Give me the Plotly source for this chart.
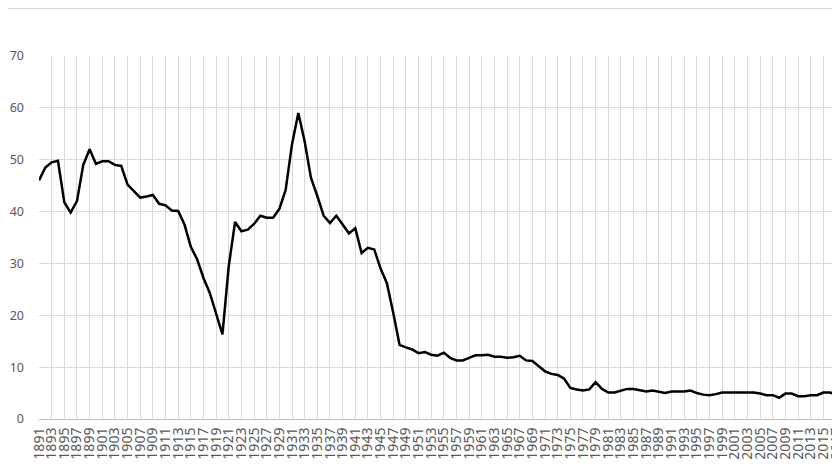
import plotly.graph_objects as go

years = list(range(1891, 2018))
values = [
    46.0, 48.5, 49.5, 49.8, 41.8, 39.8, 42.0, 49.0, 52.0, 49.2,   # 1891-1900
    49.7, 49.7, 49.0, 48.8, 45.2, 44.0, 42.7, 42.9, 43.2, 41.5,   # 1901-1910
    41.2, 40.2, 40.1, 37.5, 33.2, 30.8, 27.2, 24.3, 20.2, 16.3,   # 1911-1920
    29.5, 38.0, 36.2, 36.5, 37.6, 39.2, 38.8, 38.8, 40.5, 44.2,   # 1921-1930
    53.0, 59.0, 53.5, 46.5, 43.0, 39.2, 37.8, 39.2, 37.5, 35.8,   # 1931-1940
    36.8, 32.0, 33.0, 32.7, 29.0, 26.2, 20.5, 14.3, 13.8, 13.4,   # 1941-1950
    12.7, 12.9, 12.4, 12.2, 12.8, 11.8, 11.3, 11.3, 11.8, 12.3,   # 1951-1960
    12.3, 12.4, 12.0, 12.0, 11.8, 11.9, 12.2, 11.3, 11.2, 10.2,   # 1961-1970
    9.2, 8.7, 8.5, 7.8, 6.0, 5.7, 5.5, 5.7, 7.1, 5.8,             # 1971-1980
    5.1, 5.1, 5.5, 5.8, 5.8, 5.6, 5.3, 5.5, 5.3, 5.0,             # 1981-1990
    5.3, 5.3, 5.3, 5.5, 5.0, 4.7, 4.6, 4.8, 5.1, 5.1,             # 1991-2000
    5.1, 5.1, 5.1, 5.1, 4.9, 4.6, 4.6, 4.1, 4.9, 4.9,             # 2001-2010
    4.4, 4.4, 4.6, 4.6, 5.1, 5.1, 4.8,                            # 2011-2017
]
tick_years = years[::2]
tick_labels = [str(y) for y in tick_years]
y_ticks = [0, 10, 20, 30, 40, 50, 60, 70]

fig = go.Figure()
fig.add_trace(go.Scatter(
    x=years, y=values, mode="lines",
    line=dict(color="#000000", width=2.5),
    hoverinfo="x+y", showlegend=False,
))

# the page body has an 8px default margin; margins compensate so that the
# plot area lands at x 39..836, y 56..419 in the window
W, H = 840, 473
L, R, T, B = 31, 12, 48, 62

fig.update_layout(
    width=W, height=H,
    margin=dict(l=L, r=R, t=T, b=B, pad=0),
    paper_bgcolor="white", plot_bgcolor="white",
    font=dict(family="Noto Sans, Open Sans, sans-serif", color="#595959", size=13),
    xaxis=dict(
        range=[1891, 2017], tickmode="array", tickvals=tick_years, ticktext=tick_labels,
        tickangle=-90, tickfont=dict(size=14, color="#595959"),
        showgrid=True, gridcolor="#d9d9d9", gridwidth=1,
        showline=True, linecolor="#bfbfbf", linewidth=1,
        ticks="", zeroline=False, fixedrange=True, automargin=False,
        ticklabelstandoff=2,
    ),
    yaxis=dict(
        range=[0, 70], tickmode="array", tickvals=y_ticks,
        tickfont=dict(size=12.5, color="#595959"),
        showgrid=True, gridcolor="#d9d9d9", gridwidth=1,
        showline=False, ticks="", zeroline=False, fixedrange=True,
        ticklabelstandoff=14, automargin=False,
    ),
    shapes=[dict(
        type="line", xref="paper", yref="paper",
        x0=-1, x1=2, y0=1 + (T - 0.5) / (H - T - B), y1=1 + (T - 0.5) / (H - T - B),
        line=dict(color="#d9d9d9", width=1), layer="below",
    )],
)

fig.write_html("out.html")
